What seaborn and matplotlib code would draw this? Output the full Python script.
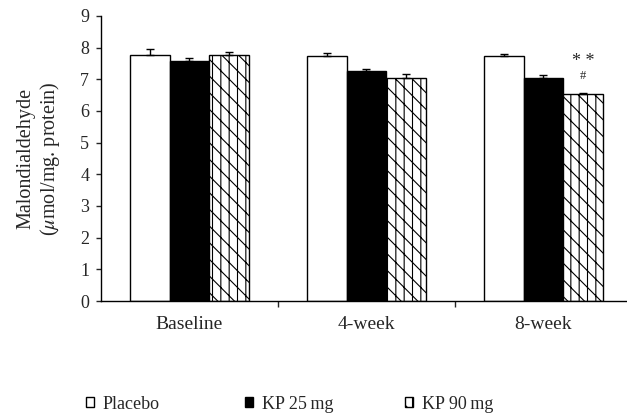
import matplotlib
matplotlib.use('Agg')
import matplotlib.pyplot as plt
import matplotlib.patches as mpatches
import seaborn as sns
import pandas as pd

# values
timepoints = ['Baseline', '4-week', '8-week']
groups = ['Placebo', 'KP 25\u2009mg', 'KP 90\u2009mg']
placebo = [7.78, 7.72, 7.72]
kp25 = [7.57, 7.26, 7.04]
kp90 = [7.75, 7.05, 6.52]
placebo_err = [0.17, 0.10, 0.09]
kp25_err = [0.11, 0.06, 0.08]
kp90_err = [0.10, 0.11, 0.06]

sns.set_style('white')
plt.rcParams['font.family'] = ['Liberation Serif', 'DejaVu Serif']
plt.rcParams['mathtext.fontset'] = 'stix'
plt.rcParams['hatch.linewidth'] = 0.8

df = pd.DataFrame({
    'time': timepoints * 3,
    'group': [g for g in groups for _ in timepoints],
    'value': placebo + kp25 + kp90,
    'err': placebo_err + kp25_err + kp90_err,
})

fig = plt.figure(figsize=(6.27, 4.17), dpi=100)
ax = fig.add_axes([0.161, 0.278, 0.839, 0.684])

colors = dict(zip(groups, ['white', 'black', 'white']))
sns.barplot(data=df, x='time', y='value', hue='group', order=timepoints,
            hue_order=groups, palette=colors, width=0.675, errorbar=None,
            edgecolor='black', linewidth=1.0, saturation=1, legend=False, ax=ax)

# hatch the KP 90 mg bars, add upper error bars
hatched = []
for i, p in enumerate(list(ax.patches)):
    g = groups[i // len(timepoints)]
    t = i % len(timepoints)
    if g == groups[2]:
        p.set_hatch('||\\\\')
        hatched.append(p)
    row = df[(df.group == g) & (df.time == timepoints[t])].iloc[0]
    xc = p.get_x() + p.get_width() / 2
    ax.errorbar(xc, row.value, yerr=[[0], [row.err]], fmt='none',
                ecolor='black', elinewidth=1.0, capsize=3, capthick=1.0)

# significance marks over the 8-week KP 90 mg bar
last = hatched[-1]
xc = last.get_x() + last.get_width() / 2
top = last.get_height()
ax.text(xc, top + 1.04, '* *', ha='center', va='center', fontsize=13)
ax.text(xc, top + 0.58, '#', ha='center', va='center', fontsize=9)

ax.set_ylim(0, 9)
ax.set_yticks(range(10))
ax.set_xlim(-0.5, -0.5 + 0.839 * 627 / 177)
ax.set_xticks(range(3))
ax.set_xticklabels(timepoints)
ax.set_xticks([0.5, 1.5], minor=True)
ax.tick_params(axis='x', which='major', length=0, pad=11, labelsize=14)
ax.tick_params(axis='x', which='minor', length=4, width=1, direction='out', bottom=True)
ax.tick_params(axis='y', length=3.5, width=1, direction='out', left=True, labelsize=13, pad=5)
ax.set_xlabel('')
ax.set_ylabel('Malondialdehyde\n($\\mu$mol/mg. protein)', fontsize=14.5, linespacing=1.15)
ax.yaxis.set_label_coords(-0.074, 0.5)
sns.despine(ax=ax)
for s in ['left', 'bottom']:
    ax.spines[s].set_color('black')
    ax.spines[s].set_linewidth(1.0)

# legend entries sit at a fixed pitch below the plot
handles = [
    mpatches.Patch(facecolor='white', edgecolor='black', label=groups[0]),
    mpatches.Patch(facecolor='black', edgecolor='black', label=groups[1]),
    mpatches.Patch(facecolor='white', edgecolor='black', hatch='||\\\\', label=groups[2]),
]
for h, x0 in zip(handles, [0.137, 0.391, 0.646]):
    fig.legend(handles=[h], loc='center left', bbox_to_anchor=(x0, 0.031),
               frameon=False, fontsize=13, handlelength=0.44, handleheight=0.44,
               handletextpad=0.5, borderpad=0, borderaxespad=0)

fig.savefig('out.png', dpi=100)
